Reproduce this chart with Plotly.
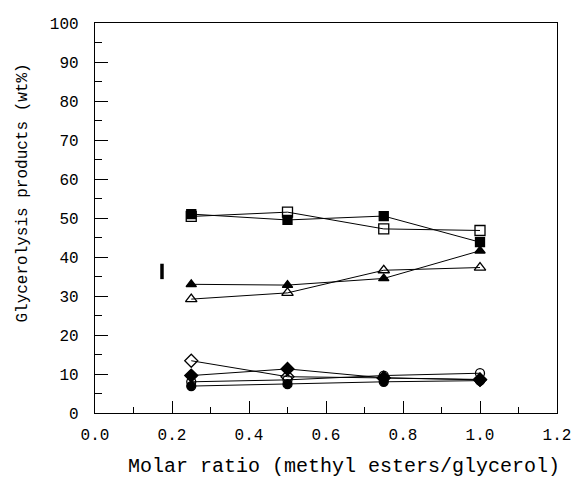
import plotly.graph_objects as go

molar_ratio = [0.25, 0.5, 0.75, 1.0]

filled_square = [51.0, 49.5, 50.5, 43.8]
open_square = [50.4, 51.5, 47.2, 46.8]
filled_triangle = [33.0, 32.8, 34.5, 41.6]
open_triangle = [29.2, 30.8, 36.6, 37.3]
open_diamond = [13.4, 9.3, 9.0, 8.6]
filled_diamond = [9.6, 11.3, 9.0, 8.5]
open_circle = [8.0, 8.5, 9.6, 10.2]
filled_circle = [6.9, 7.4, 8.0, 8.3]

stray_x = [0.174]
stray_y = [36.3]

x_ticks = [0.0, 0.2, 0.4, 0.6, 0.8, 1.0, 1.2]
x_tick_text = ["0.0", "0.2", "0.4", "0.6", "0.8", "1.0", "1.2"]
y_ticks = [0, 10, 20, 30, 40, 50, 60, 70, 80, 90, 100]

series = [
    (filled_square, "square", 9),
    (open_square, "square-open", 10),
    (filled_triangle, "triangle-up", 9),
    (open_triangle, "triangle-up-open", 10),
    (open_diamond, "diamond-open", 10),
    (filled_diamond, "diamond", 10),
    (open_circle, "circle-open", 9),
    (filled_circle, "circle", 9),
]

fig = go.Figure()
for ys, sym, sz in series:
    fig.add_trace(go.Scatter(
        x=molar_ratio, y=ys, mode="lines+markers",
        line=dict(color="black", width=1),
        marker=dict(symbol=sym, size=sz, color="black",
                    line=dict(color="black", width=1.3)),
        showlegend=False,
    ))

fig.add_trace(go.Scatter(
    x=stray_x, y=stray_y, mode="markers",
    marker=dict(symbol="line-ns", size=11, line=dict(color="black", width=3.5)),
    showlegend=False,
))

font = "Liberation Mono, Courier New, monospace"
fig.update_layout(
    width=572, height=472,
    margin=dict(l=87, r=23, t=8, b=67),
    paper_bgcolor="white", plot_bgcolor="white",
    font=dict(family=font, color="black", size=16),
    xaxis=dict(
        range=[0, 1.2], tickvals=x_ticks, ticktext=x_tick_text,
        ticks="inside", ticklen=12, tickwidth=1, tickcolor="black",
        minor=dict(dtick=0.1, ticks="inside", ticklen=6, tickcolor="black"),
        showline=True, linecolor="black", linewidth=1.3, mirror=True,
        showgrid=False, zeroline=False, ticklabeloverflow="allow",
        tickfont=dict(size=16), ticklabelstandoff=7,
    ),
    yaxis=dict(
        range=[0, 100], tickvals=y_ticks,
        ticks="inside", ticklen=13, tickwidth=1, tickcolor="black",
        minor=dict(dtick=5, ticks="inside", ticklen=7, tickcolor="black"),
        showline=True, linecolor="black", linewidth=1.3, mirror=True,
        showgrid=False, zeroline=False, ticklabeloverflow="allow",
        tickfont=dict(size=16), ticklabelstandoff=12,
    ),
    annotations=[
        dict(
            text="Glycerolysis products (wt%)", textangle=-90,
            xref="paper", yref="paper", x=-0.156, y=0.565,
            xanchor="center", yanchor="middle", showarrow=False,
            font=dict(size=16),
        ),
        dict(
            text="Molar ratio (methyl esters/glycerol)",
            xref="paper", yref="paper", x=0.539, y=-0.138,
            xanchor="center", yanchor="middle", showarrow=False,
            font=dict(size=20),
        ),
    ],
)

fig.write_html("out.html")
